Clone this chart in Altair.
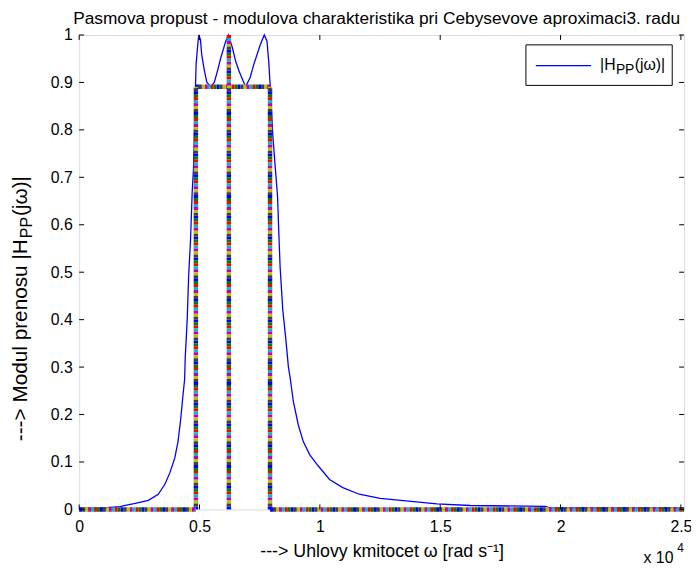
import altair as alt
import pandas as pd

# ---- curve |H_PP(jw)| ----
omega = [0, 1000, 1700, 1971, 2329, 2875, 3285, 3561, 3766, 3971, 4107, 4218, 4312,
         4382, 4407, 4489, 4547, 4629, 4694, 4752, 4793, 4834, 4858, 4928, 4969,
         5039, 5093, 5203, 5306, 5474, 5614, 5750, 5885, 6090, 6201, 6366, 6500,
         6641, 6912, 7100, 7257, 7528, 7692, 7803, 7873, 7939, 8050, 8144, 8243,
         8284, 8350, 8460, 8584, 8694, 8760, 8900, 9105, 9311, 9582, 9927, 10403,
         10953, 11635, 12506, 14863, 16251, 19372, 19582, 25133]
magnitude = [0.002, 0.003, 0.006, 0.009, 0.0125, 0.019, 0.032, 0.053, 0.077, 0.108,
             0.143, 0.19, 0.24, 0.275, 0.32, 0.40, 0.49, 0.57, 0.667, 0.72, 0.806,
             0.894, 0.9375, 0.98, 1.0, 0.99, 0.958, 0.925, 0.90, 0.891, 0.90, 0.925,
             0.952, 0.987, 1.0, 0.973, 0.945, 0.924, 0.891, 0.91, 0.938, 0.98, 1.0,
             0.987, 0.946, 0.891, 0.785, 0.723, 0.66, 0.598, 0.51, 0.42, 0.36, 0.30,
             0.28, 0.227, 0.178, 0.143, 0.115, 0.092, 0.063, 0.046, 0.032, 0.0235,
             0.0117, 0.0083, 0.0063, 0.003, 0.003]

# ---- tolerance scheme (dotted, multicoloured) segments ----
seg_x = [0, 4850, 7930, 6220, 4850, 7930]
seg_x2 = [4850, 4850, 7930, 6220, 7930, 25133]
seg_y = [0, 0, 0, 0, 0.891, 0]
seg_y2 = [0, 0.891, 0.891, 1.0, 0.891, 0]
dot_colors = ["#0000ff", "#008000", "#ff0000", "#00bfbf", "#bf00bf", "#bfbf00", "#404040"]

# ---- ticks ----
x_ticks = [0, 5000, 10000, 15000, 20000, 25000]
y_ticks = [0, 0.1, 0.2, 0.3, 0.4, 0.5, 0.6, 0.7, 0.8, 0.9, 1.0]

title_text = "Pasmova propust - modulova charakteristika pri Cebysevove aproximaci3. radu"
x_title = "---> Uhlovy kmitocet \u03c9 [rad s\u207b\u00b9]"

FONT = "Liberation Sans"
W, H = 612, 480

curve_df = pd.DataFrame({"omega": omega, "mag": magnitude})
seg_df = pd.DataFrame({"x": seg_x, "x2": seg_x2, "y": seg_y, "y2": seg_y2})
xt_df = pd.DataFrame({"t": x_ticks})
yt_df = pd.DataFrame({"t": y_ticks})
one = alt.Data(values=[{"k": 1}])

xs = alt.Scale(domain=[0, 25133], nice=False, zero=False)
ys = alt.Scale(domain=[0, 1], nice=False, zero=False)

x_axis = alt.Axis(values=x_ticks, labelExpr="format(datum.value/10000, '~g')",
                  title=x_title, grid=False, ticks=False, domain=False,
                  labelPadding=9, titlePadding=9, labelFontSize=16,
                  titleFontSize=18, titleFontWeight="normal",
                  labelFont=FONT, titleFont=FONT, labelColor="black",
                  titleColor="black", labelFlush=False)
y_axis = alt.Axis(values=y_ticks, format="~g", title=None, grid=False,
                  ticks=False, domain=False, labelPadding=7, labelFontSize=16,
                  labelFont=FONT, labelColor="black", labelFlush=False)

curve = alt.Chart(curve_df).mark_line(color="#0000ff", strokeWidth=1.3).encode(
    x=alt.X("omega:Q", scale=xs, axis=x_axis),
    y=alt.Y("mag:Q", scale=ys, axis=y_axis),
)

dots = []
for i, c in enumerate(dot_colors):
    dots.append(
        alt.Chart(seg_df).mark_rule(color=c, strokeWidth=4.5, strokeDash=[3, 18],
                                    strokeDashOffset=3 * i).encode(
            x=alt.X("x:Q", scale=xs, axis=x_axis),
            x2="x2:Q",
            y=alt.Y("y:Q", scale=ys, axis=y_axis),
            y2="y2:Q",
        )
    )

tick_style = dict(color="black", strokeWidth=1)
xb = alt.Chart(xt_df).mark_rule(**tick_style).encode(
    x=alt.X("t:Q", scale=xs, axis=x_axis), y=alt.value(H), y2=alt.value(H - 5))
xtop = alt.Chart(xt_df).mark_rule(**tick_style).encode(
    x=alt.X("t:Q", scale=xs, axis=x_axis), y=alt.value(0), y2=alt.value(5))
yl = alt.Chart(yt_df).mark_rule(**tick_style).encode(
    y=alt.Y("t:Q", scale=ys, axis=y_axis), x=alt.value(0), x2=alt.value(5))
yr = alt.Chart(yt_df).mark_rule(**tick_style).encode(
    y=alt.Y("t:Q", scale=ys, axis=y_axis), x=alt.value(W), x2=alt.value(W - 5))

# legend box
leg_box = alt.Chart(one).mark_rect(fill="white", stroke="black", strokeWidth=1).encode(
    x=alt.value(452), x2=alt.value(600), y=alt.value(10), y2=alt.value(51))
leg_line = alt.Chart(one).mark_rule(color="#0000ff", strokeWidth=1.3).encode(
    x=alt.value(462), x2=alt.value(518), y=alt.value(31))
lt = dict(font=FONT, fontSize=16, color="black", align="left", baseline="middle")
leg_t1 = alt.Chart(one).mark_text(text="|H", **lt).encode(x=alt.value(527), y=alt.value(30))
leg_t2 = alt.Chart(one).mark_text(text="PP", **{**lt, "fontSize": 14}).encode(
    x=alt.value(543), y=alt.value(35))
leg_t3 = alt.Chart(one).mark_text(text="(j\u03c9)|", **lt).encode(
    x=alt.value(562), y=alt.value(30))

# y-axis title with subscript
YF = 21
SF = 16
y_base = 411
w1 = 9.736 * YF
w2 = 1.334 * SF + 2
yt = dict(font=FONT, fontSize=YF, color="black", align="left", baseline="middle", angle=270)
yt1 = alt.Chart(one).mark_text(text="---> Modul prenosu |H", **yt).encode(
    x=alt.value(-59), y=alt.value(y_base))
yt2 = alt.Chart(one).mark_text(text="PP", **{**yt, "fontSize": SF}).encode(
    x=alt.value(-53), y=alt.value(y_base - w1 - 1))
yt3 = alt.Chart(one).mark_text(text="(j\u03c9)|", **yt).encode(
    x=alt.value(-59), y=alt.value(y_base - w1 - w2))

exp_t1 = alt.Chart(one).mark_text(text="x 10", font=FONT, fontSize=16, color="black",
                                  align="left", baseline="middle").encode(
    x=alt.value(571), y=alt.value(529))
exp_t2 = alt.Chart(one).mark_text(text="4", font=FONT, fontSize=12, color="black",
                                  align="left", baseline="middle").encode(
    x=alt.value(605), y=alt.value(519))

# chart title as text above the plot
title_t = alt.Chart(one).mark_text(text=title_text, font=FONT, fontSize=17.5, color="black",
                                   align="center", baseline="middle").encode(
    x=alt.value(301), y=alt.value(-16))

chart = alt.layer(
    curve, *dots, xb, xtop, yl, yr, leg_box, leg_line, leg_t1, leg_t2, leg_t3,
    yt1, yt2, yt3, exp_t1, exp_t2, title_t
).properties(
    width=W, height=H,
    autosize=alt.AutoSizeParams(type="none"),
    padding={"left": 72, "top": 24, "right": 7, "bottom": 59},
).configure_view(stroke="black", strokeWidth=1).configure(background="white")

chart.save("out.html", embed_options={"renderer": "svg", "actions": False})
